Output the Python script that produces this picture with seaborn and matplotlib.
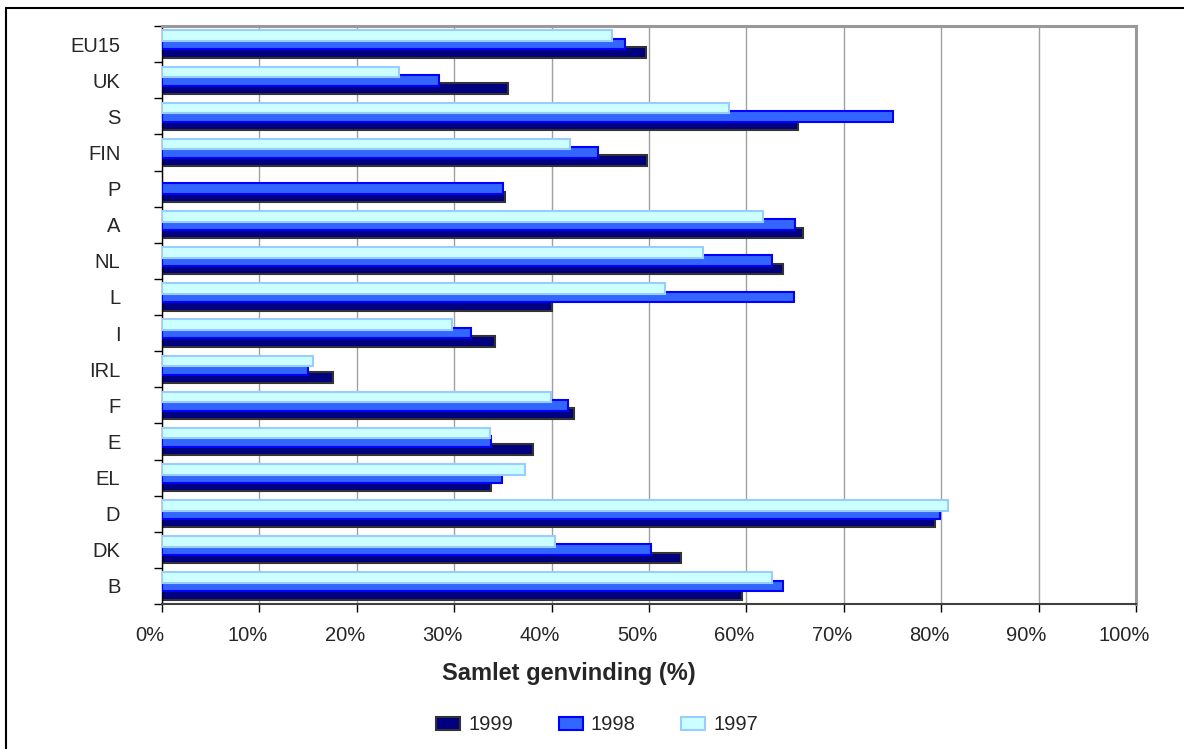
import numpy as np
import pandas as pd
import matplotlib
matplotlib.use("Agg")
import matplotlib.pyplot as plt
import matplotlib.patches as mpatches
import matplotlib.transforms as mtransforms
from matplotlib.lines import Line2D
from matplotlib.ticker import FixedLocator, FuncFormatter
import seaborn as sns

countries = ["EU15", "UK", "S", "FIN", "P", "A", "NL", "L", "I", "IRL",
             "F", "E", "EL", "D", "DK", "B"]
v1999 = [49.7, 35.5, 65.3, 49.8, 35.2, 65.8, 63.8, 40.0, 34.2, 17.6,
         42.3, 38.1, 33.8, 79.4, 53.3, 59.5]
v1998 = [47.5, 28.4, 75.1, 44.8, 35.0, 65.0, 62.6, 64.9, 31.7, 15.0,
         41.7, 33.8, 34.9, 79.9, 50.2, 63.8]
v1997 = [46.2, 24.3, 58.2, 41.9, np.nan, 61.7, 55.5, 51.6, 29.8, 15.5,
         39.9, 33.7, 37.3, 80.7, 40.3, 62.6]
years = ["1997", "1998", "1999"]
legend_years = ["1999", "1998", "1997"]
xticks = list(range(0, 101, 10))

fills = {"1999": "#000080", "1998": "#3366FF", "1997": "#CCFFFF"}
edges = {"1999": "#333333", "1998": "#0000FF", "1997": "#99CCFF"}
zorders = {"1999": 2, "1998": 3, "1997": 4}

df = pd.concat([
    pd.DataFrame({"country": countries, "value": v, "year": y})
    for y, v in zip(years, [v1997, v1998, v1999])
], ignore_index=True)

sns.set_style("white")
plt.rcParams["font.family"] = ["Liberation Sans", "DejaVu Sans"]

fig = plt.figure(figsize=(11.84, 7.49), dpi=100)
ax = fig.add_axes([162 / 1184, 1 - 604 / 749, (1136 - 162) / 1184, (604 - 26) / 749])

sns.barplot(data=df, y="country", x="value", hue="year", hue_order=years,
            order=countries, palette=fills, orient="h", width=0.69,
            saturation=1, legend=False, ax=ax, errorbar=None)

for cont, y in zip(ax.containers, years):
    for p in cont.patches:
        p.set_edgecolor(edges[y])
        p.set_linewidth(1.5)
        p.set_zorder(zorders[y])
        h = p.get_height()
        nh = h * 1.29
        p.set_y(p.get_y() - (nh - h) / 2)
        p.set_height(nh)

ax.set_xlim(0, 100)
ax.set_ylim(len(countries) - 0.5, -0.5)
ax.xaxis.set_major_locator(FixedLocator(xticks))
ax.xaxis.set_major_formatter(FuncFormatter(lambda v, pos: f"{int(v)}%"))
ax.xaxis.grid(True, color="#a0a0a0", lw=1.0, zorder=0)
ax.yaxis.grid(False)
ax.set_axisbelow(True)

ax.yaxis.set_minor_locator(FixedLocator(np.arange(-0.5, len(countries), 1.0)))
ax.tick_params(axis="y", which="major", length=0, pad=30, labelsize=14.5)
ax.tick_params(axis="y", which="minor", length=6, width=1, color="black", left=True)
ax.tick_params(axis="x", which="major", length=6, width=1, color="black",
               bottom=True, pad=10, labelsize=14.5)
shift = mtransforms.ScaledTranslation(-12 / 100, 0, fig.dpi_scale_trans)
for lab in ax.get_xticklabels():
    lab.set_transform(lab.get_transform() + shift)

ax.set_ylabel("")
ax.set_xlabel("Samlet genvinding (%)", fontsize=17, fontweight="bold")
ax.xaxis.set_label_coords((569 - 162) / 974, (604 - 662) / 578)

for s in ["top", "right"]:
    ax.spines[s].set_color("#999999")
    ax.spines[s].set_linewidth(2.2)
ax.spines["left"].set_color("black")
ax.spines["left"].set_linewidth(1.0)
ax.spines["bottom"].set_color("#404040")
ax.spines["bottom"].set_linewidth(1.5)

handles = [mpatches.Patch(facecolor=fills[y], edgecolor=edges[y], linewidth=1.5)
           for y in legend_years]
fig.legend(handles, legend_years, loc="center", bbox_to_anchor=(597 / 1184, 1 - 725 / 749),
           ncol=3, frameon=False, fontsize=14.5, handlelength=1.2, handleheight=0.6,
           handletextpad=0.4, columnspacing=2.25)

fig.add_artist(Line2D([6 / 1184, 6 / 1184], [0, 1 - 7.5 / 749], transform=fig.transFigure,
                      color="black", lw=1.5))
fig.add_artist(Line2D([6 / 1184, 1], [1 - 7.5 / 749, 1 - 7.5 / 749], transform=fig.transFigure,
                      color="black", lw=1.5))

fig.savefig("out.png", dpi=100)
